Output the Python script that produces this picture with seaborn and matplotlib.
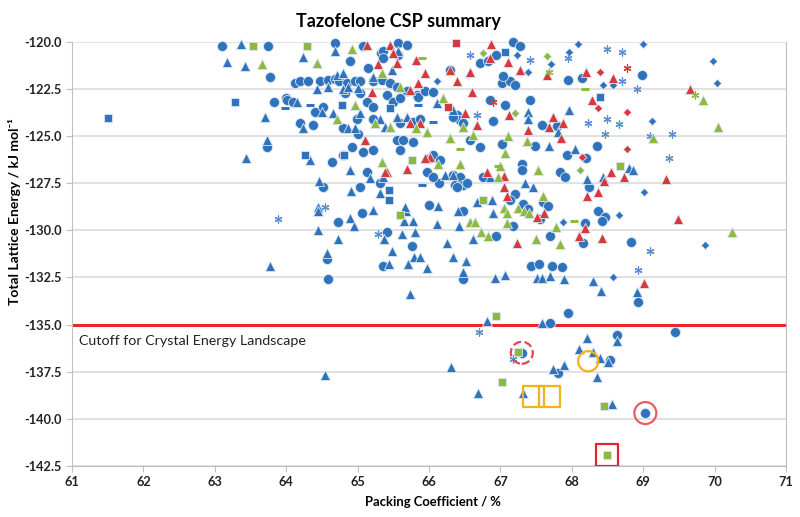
import numpy as np
import pandas as pd
import matplotlib.pyplot as plt
import seaborn as sns

# (packing coefficient %, total lattice energy kJ/mol)
blue_circle = [
    (67.30, -136.5), (67.69, -134.94), (67.95, -134.4), (68.93, -133.8), (69.44, -135.4),
    (67.81, -137.55), (68.54, -136.9), (68.64, -135.58), (69.03, -139.7),
    (64.51, -127.7), (64.73, -129.55), (64.57, -131.5), (64.59, -132.57), (65.06, -129.06),
    (65.03, -127.7), (65.41, -130.1), (65.36, -131.9), (65.76, -130.85), (66.47, -132.6),
    (66.48, -128.95), (66.0, -128.64), (66.14, -127.47), (66.36, -127.6), (66.48, -127.6),
    (66.94, -130.3), (63.73, -125.6),
    (68.37, -129.0), (68.47, -129.27), (68.42, -129.5), (68.16, -130.7), (68.19, -129.6),
    (67.69, -130.3), (67.43, -131.9), (67.54, -131.8), (67.72, -131.9), (67.86, -131.95),
    (67.18, -129.75), (67.2, -128.1), (67.13, -128.4), (67.32, -128.6), (67.39, -128.85),
    (67.55, -129.4), (67.59, -128.5), (67.67, -128.7), (68.24, -127.7), (68.83, -130.6),
    (67.18, -120.0), (67.27, -120.2), (68.98, -121.75), (67.95, -122.0), (68.14, -121.9),
    (67.02, -122.2), (67.13, -122.07), (67.2, -122.3), (67.58, -124.4), (67.79, -124.47),
    (67.48, -125.5), (67.02, -125.4), (68.35, -125.5), (67.93, -126.0), (68.2, -126.15),
    (67.3, -126.5), (67.3, -126.8), (67.84, -126.9), (67.91, -127.15), (67.41, -123.07),
    (67.06, -123.34),
    (63.10, -120.2), (63.75, -120.2), (63.77, -121.86), (64.12, -122.17), (64.19, -122.1),
    (64.31, -122.07), (63.83, -123.2), (64.0, -123.0), (64.01, -123.07), (64.1, -123.2),
    (64.47, -122.1), (64.59, -122.0), (64.68, -121.95), (64.74, -122.1), (64.85, -122.2),
    (64.96, -122.1), (65.03, -122.1), (65.22, -122.05), (65.34, -122.0), (65.45, -122.2),
    (65.55, -122.4), (65.69, -122.6), (64.82, -122.7), (65.03, -122.7), (65.13, -123.2),
    (65.22, -123.45), (65.41, -122.8), (65.5, -123.2), (65.59, -123.0), (65.83, -122.8),
    (65.85, -122.95), (64.40, -123.7), (64.51, -123.45), (64.8, -124.55), (64.99, -124.1),
    (65.22, -124.1), (65.59, -124.3), (65.78, -124.25), (65.87, -124.1),
    (64.68, -120.05), (65.08, -120.2), (65.33, -120.6), (65.36, -120.5), (65.35, -120.85),
    (65.56, -120.05), (65.57, -120.7), (65.69, -120.15), (65.95, -122.6), (66.06, -122.65),
    (66.29, -121.5), (66.71, -121.1), (66.82, -121.0), (66.94, -120.7), (67.03, -121.8),
    (66.85, -123.1), (66.39, -123.87), (66.43, -124.13), (66.48, -124.3), (66.34, -124.0),
    (65.55, -125.19), (65.64, -125.19), (65.78, -125.3), (65.59, -125.72), (66.01, -126.15),
    (66.06, -125.99), (66.15, -126.25), (65.97, -126.9), (66.06, -127.15), (66.34, -127.05),
    (66.43, -127.15), (66.48, -127.58), (66.39, -127.7), (66.53, -127.5), (66.76, -127.15),
    (64.64, -126.4), (64.8, -126.0), (64.92, -125.56), (65.13, -126.9), (65.31, -127.47),
    (65.08, -125.83), (65.22, -125.72), (64.19, -124.3), (64.38, -124.4), (64.9, -121.0),
    (65.15, -121.4), (65.0, -124.9), (66.58, -125.2), (66.72, -125.6), (66.9, -124.2),
]
blue_triangle = [
    (66.81, -134.79), (67.58, -134.94), (66.31, -137.28), (66.69, -138.65), (67.32, -138.65),
    (67.74, -137.38), (67.89, -137.17), (68.10, -136.3), (68.21, -135.7), (68.30, -136.48),
    (68.40, -136.8), (68.35, -137.8), (68.51, -137.0), (68.64, -135.9), (68.56, -139.2),
    (64.54, -137.7),
    (64.45, -128.74), (64.45, -129.0), (64.45, -130.0), (64.73, -130.45), (64.57, -131.2),
    (63.77, -131.9), (64.90, -129.33), (64.95, -129.75), (65.21, -128.9), (64.91, -127.9),
    (64.46, -127.4), (65.37, -130.45), (65.48, -131.1), (65.44, -131.77), (65.79, -131.4),
    (65.87, -131.4), (65.71, -131.8), (65.97, -132.0), (65.73, -133.36), (65.62, -130.2),
    (65.80, -130.1), (66.25, -130.65), (66.34, -131.4), (66.52, -131.65), (66.47, -132.2),
    (66.61, -130.45), (66.92, -132.55), (66.11, -129.65), (66.13, -128.7), (66.42, -129.75),
    (66.40, -128.95), (65.68, -129.0), (65.77, -129.5), (65.65, -129.5), (65.66, -128.75),
    (65.31, -128.0), (66.88, -128.4), (66.90, -129.06), (66.67, -128.5),
    (68.91, -133.3), (68.30, -132.7), (68.41, -133.2), (67.51, -132.55), (67.58, -132.55),
    (67.69, -132.4), (67.89, -132.6), (67.06, -132.35), (67.34, -127.5), (67.45, -127.7),
    (68.21, -127.3), (68.44, -127.15), (68.80, -126.7), (68.86, -126.8),
    (63.37, -120.1), (63.17, -121.06), (63.42, -121.27), (64.24, -120.8), (64.15, -123.2),
    (63.70, -123.97), (63.73, -125.2), (63.44, -126.15), (64.33, -126.25), (64.43, -122.5),
    (64.59, -122.4), (64.71, -121.75), (64.80, -122.5), (64.87, -122.4), (65.0, -122.45),
    (64.24, -124.55), (64.5, -123.7), (64.66, -123.76), (64.87, -124.55), (64.96, -124.55),
    (65.03, -123.76), (65.31, -124.1), (65.38, -124.5), (65.55, -123.97), (65.69, -123.97),
    (66.11, -123.23), (66.34, -123.6), (67.38, -123.7), (67.38, -124.1), (67.96, -123.6),
    (67.81, -124.8), (67.68, -125.5), (68.05, -125.7),
    (64.89, -126.8), (65.17, -127.2), (65.36, -127.15), (66.22, -127.05), (66.34, -127.05),
    (66.85, -127.15), (64.68, -120.5), (65.57, -120.5), (65.48, -121.5), (65.22, -121.85),
    (64.8, -121.65),
]
blue_square = [
    (61.5, -124.03), (63.28, -123.2), (64.26, -126.0), (64.78, -123.34), (64.81, -126.0),
    (65.45, -123.5), (65.44, -127.85), (65.44, -128.4), (67.07, -120.55), (68.40, -122.95),
]
blue_diamond = [
    (68.09, -120.1), (69.0, -120.1), (67.96, -120.55), (67.71, -121.2), (67.38, -121.6),
    (67.23, -120.7), (69.98, -121.0), (70.03, -122.2), (68.43, -122.3), (68.58, -122.3),
    (69.12, -124.2), (69.01, -127.96), (69.87, -130.8), (68.58, -132.5), (68.66, -129.2),
    (67.87, -129.55), (66.11, -122.1),
]
blue_star = [
    (68.49, -120.4), (68.70, -120.55), (67.94, -120.85), (67.41, -120.95), (68.70, -122.07),
    (68.91, -122.5), (68.23, -124.3), (68.49, -124.1), (68.66, -124.35), (68.47, -124.9),
    (69.41, -124.9), (69.10, -125.0), (69.36, -126.15), (69.10, -131.1), (68.93, -132.1),
    (63.89, -129.4), (64.55, -128.74), (65.28, -130.2), (66.57, -120.7), (66.67, -123.87),
    (66.70, -135.42), (67.18, -136.85),
]
blue_dash = [(63.98, -123.5), (64.33, -123.35), (65.85, -123.35), (66.06, -124.25), (65.9, -127.58)]

red_triangle = [
    (65.13, -120.15), (65.45, -120.15), (65.5, -120.6), (65.29, -121.2), (65.55, -121.1),
    (65.82, -120.95), (65.94, -121.65), (65.85, -122.2), (65.73, -122.54), (65.2, -122.65),
    (65.45, -124.5), (65.1, -125.2), (65.41, -126.9), (65.73, -124.3), (65.87, -124.3),
    (66.01, -126.1), (65.95, -126.15), (66.29, -121.5), (66.39, -122.1), (66.57, -121.6),
    (66.85, -120.85), (66.67, -124.4), (66.81, -126.9), (66.6, -122.65), (66.5, -123.8),
    (66.87, -120.1),
    (67.11, -121.06), (67.27, -121.5), (67.65, -121.75), (68.2, -121.6), (68.58, -121.9),
    (68.28, -123.07), (67.74, -124.0), (67.88, -124.3), (67.68, -124.5), (67.12, -123.9),
    (67.39, -124.7), (67.85, -125.1), (68.55, -126.9), (68.73, -127.15), (69.66, -122.5),
    (69.32, -127.3), (67.05, -127.1),
    (69.49, -129.4), (69.01, -132.8), (68.42, -130.4), (68.10, -130.3), (68.19, -129.9),
    (67.23, -130.65), (67.09, -128.2), (67.05, -127.7), (67.61, -129.06), (67.51, -129.27),
    (68.21, -128.16), (68.37, -127.95), (68.45, -127.4), (65.38, -126.9), (65.69, -126.75),
]
red_square = [(66.38, -120.05), (66.27, -123.45)]
red_diamond = [(68.40, -121.6), (68.37, -123.5), (68.77, -123.7), (68.77, -125.7), (68.14, -126.1)]
red_star = [(68.77, -121.4), (66.9, -123.2)]

green_triangle = [
    (63.66, -121.2), (64.43, -121.1), (64.92, -120.4), (65.34, -121.65), (65.24, -124.3),
    (65.45, -124.5), (65.59, -122.4), (65.82, -124.55), (65.97, -124.77), (66.2, -122.97),
    (66.29, -125.09), (66.48, -124.5), (66.62, -124.93), (66.13, -126.5), (65.34, -126.4),
    (64.96, -123.34), (64.71, -124.1), (67.11, -125.0), (67.37, -125.25), (67.06, -125.9),
    (67.53, -126.8), (66.99, -126.6), (69.84, -123.1), (70.05, -124.5), (69.14, -125.1),
    (70.24, -130.1), (67.78, -129.8), (67.50, -130.45), (67.84, -130.75), (67.05, -128.8),
    (67.09, -129.06), (67.25, -128.8), (67.33, -128.95), (67.40, -129.06), (67.09, -129.6),
    (67.59, -128.16), (66.57, -129.55), (66.64, -129.55), (66.73, -130.1), (66.83, -130.3),
    (66.43, -126.5), (66.96, -127.15),
]
green_square = [
    (63.54, -120.2), (64.29, -120.2), (65.76, -126.25), (65.59, -129.2), (66.76, -128.4),
    (66.94, -134.57), (67.02, -138.07), (68.45, -139.3), (68.49, -141.95), (68.67, -126.6),
    (67.25, -136.45),
]
green_diamond = [(67.65, -120.74), (67.2, -123.8), (68.12, -126.8), (66.76, -120.6)]
green_star = [(67.68, -121.6), (69.73, -122.8)]
green_dash = [(65.9, -120.85), (66.43, -125.7), (66.97, -126.6), (68.19, -122.5), (68.03, -129.5)]

# highlighted structures below the cutoff
hl_red_dashed = [(67.30, -136.5)]
hl_gold_circle = [(68.23, -136.95)]
hl_gold_square = [(67.46, -138.8), (67.69, -138.8)]
hl_red_circle = [(69.03, -139.7)]
hl_red_square = [(68.49, -141.95)]

cutoff = -135.0

BLUE, RED, GREEN, GOLD = "#2F73BD", "#D8383B", "#8DBA3E", "#F2B21B"
STAR = (6, 2, 0)

plt.rcParams["font.family"] = ["Lato", "DejaVu Sans"]
plt.rcParams["axes.unicode_minus"] = False

fig, ax = plt.subplots(figsize=(8, 5.17), dpi=100)
fig.subplots_adjust(left=0.09, right=0.9825, top=0.919, bottom=0.099)


def draw(pts, color, marker, size, filled=True, lw=0.6, z=3):
    d = pd.DataFrame(pts, columns=["pc", "energy"])
    if filled:
        sns.scatterplot(data=d, x="pc", y="energy", color=color, marker=marker, s=size,
                        edgecolor="#DCE6F2", linewidth=lw, ax=ax, clip_on=False, zorder=z)
    else:
        sns.scatterplot(data=d, x="pc", y="energy", color=color, marker=marker, s=size,
                        edgecolor=color, linewidth=lw, ax=ax, clip_on=False, zorder=z)


draw(blue_circle, BLUE, "o", 52)
draw(blue_triangle, BLUE, "^", 52)
draw(blue_square, BLUE, "s", 36)
draw(blue_diamond, BLUE, "D", 18)
draw(blue_star, "#5B8FD0", STAR, 26, filled=False, lw=0.9)
draw(blue_dash, BLUE, "_", 40, filled=False, lw=2.2)
draw(red_triangle, RED, "^", 52)
draw(red_square, RED, "s", 36)
draw(red_diamond, RED, "D", 18)
draw(red_star, RED, STAR, 26, filled=False, lw=0.9)
draw(green_triangle, GREEN, "^", 52)
draw(green_square, GREEN, "s", 36)
draw(green_diamond, GREEN, "D", 18)
draw(green_star, GREEN, STAR, 26, filled=False, lw=0.9)
draw(green_dash, GREEN, "_", 40, filled=False, lw=2.2)

# open highlight markers
for pts, col, mk, size, ls in [
    (hl_red_dashed, "#E5474C", "o", 250, "--"),
    (hl_gold_circle, GOLD, "o", 210, "-"),
    (hl_gold_square, GOLD, "s", 230, "-"),
    (hl_red_circle, "#EE5A62", "o", 250, "-"),
    (hl_red_square, "#E0262C", "s", 250, "-"),
]:
    d = pd.DataFrame(pts, columns=["pc", "energy"])
    sns.scatterplot(data=d, x="pc", y="energy", marker=mk, s=size, facecolor="none",
                    edgecolor=col, linewidth=1.6, linestyle=ls, ax=ax, zorder=5)

ax.axhline(cutoff, color="#E8262B", lw=2.2, zorder=2)
ax.text(61.1, cutoff - 0.85, "Cutoff for Crystal Energy Landscape", fontsize=10.3,
        va="center", ha="left", color="#222222")

ax.set_xlim(61, 71)
ax.set_ylim(-142.5, -120)
ax.set_xticks(np.arange(61, 72, 1))
yt = np.arange(-142.5, -119.9, 2.5)
ax.set_yticks(yt)
ax.set_yticklabels([f"{v:.1f}" for v in yt])
ax.yaxis.grid(True, color="#D9D9D9", lw=1.1, zorder=0)
ax.set_axisbelow(True)
for side in ["left", "bottom", "right"]:
    ax.spines[side].set_color("#BFBFBF")
ax.spines["top"].set_visible(False)
ax.tick_params(axis="both", labelsize=9.2, colors="#BFBFBF", length=4, labelcolor="#222222")
for lab in ax.get_xticklabels() + ax.get_yticklabels():
    lab.set_fontweight("bold")

ax.set_xlabel("Packing Coefficient / %", fontsize=9.4, fontweight="bold")
ax.xaxis.set_label_coords(0.505, -0.072)
ax.set_ylabel("Total Lattice Energy / kJ mol\u207b\u00b9", fontsize=10, fontweight="bold")
ax.yaxis.set_label_coords(-0.072, 0.6)
ax.set_title("Tazofelone CSP summary", fontsize=13, fontweight="bold", pad=11, x=0.457)

fig.savefig("out.png", dpi=100)
